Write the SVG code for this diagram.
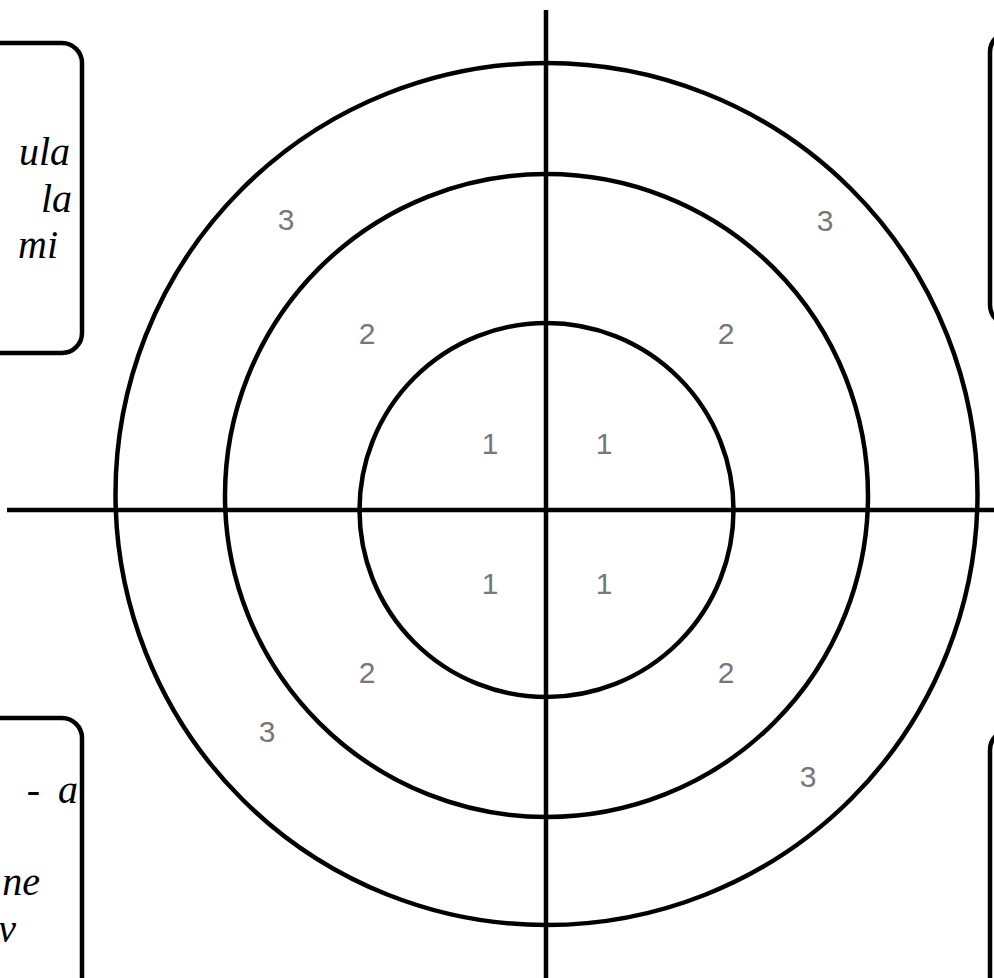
<svg xmlns="http://www.w3.org/2000/svg" width="994" height="978" viewBox="0 0 994 978">
<style>
.ring{fill:none;stroke:#000;stroke-width:4.5}
.axis{stroke:#000;stroke-width:4.5;fill:none}
.num{font-family:"Liberation Sans",Arial,sans-serif;font-size:30px;fill:#777;text-anchor:middle}
.box{fill:#fff;stroke:#000;stroke-width:4.5}
.script{font-family:"Liberation Serif",serif;font-style:italic;font-size:40px;fill:#000}
</style>
<rect width="994" height="978" fill="#fff"/>
<g id="box-top-left">
<rect class="box" x="-40" y="43" width="122" height="310" rx="20"/>
<text class="script" x="70" y="165" text-anchor="end">ula</text>
<text class="script" x="72" y="212" text-anchor="end">la</text>
<text class="script" x="58" y="258" text-anchor="end">mi</text>
</g>
<g id="box-bottom-left">
<rect class="box" x="-40" y="718" width="122" height="300" rx="20"/>
<text class="script" x="40" y="803" text-anchor="end">-</text>
<text class="script" x="78" y="803" text-anchor="end">a</text>
<text class="script" x="40" y="895" text-anchor="end">ne</text>
<text class="script" x="16" y="942" text-anchor="end">v</text>
</g>
<g id="box-top-right">
<rect class="box" x="990" y="32" width="60" height="293" rx="20"/>
</g>
<g id="box-bottom-right">
<rect class="box" x="990" y="730" width="60" height="300" rx="20"/>
</g>
<g id="target">
<circle class="ring" cx="546.5" cy="494" r="431"/>
<circle class="ring" cx="546.5" cy="495.5" r="321.5"/>
<circle class="ring" cx="546.5" cy="510" r="187"/>
</g>
<g id="connectors">
<line class="axis" x1="546" y1="10" x2="546" y2="978"/>
<line class="axis" x1="7" y1="510" x2="994" y2="510"/>
</g>
<g id="labels">
<text class="num" x="286" y="230">3</text>
<text class="num" x="825" y="231">3</text>
<text class="num" x="367" y="344">2</text>
<text class="num" x="726" y="344">2</text>
<text class="num" x="490" y="454">1</text>
<text class="num" x="604" y="454">1</text>
<text class="num" x="490" y="594">1</text>
<text class="num" x="604" y="594">1</text>
<text class="num" x="367" y="683">2</text>
<text class="num" x="726" y="683">2</text>
<text class="num" x="267" y="742">3</text>
<text class="num" x="808" y="787">3</text>
</g>
</svg>
